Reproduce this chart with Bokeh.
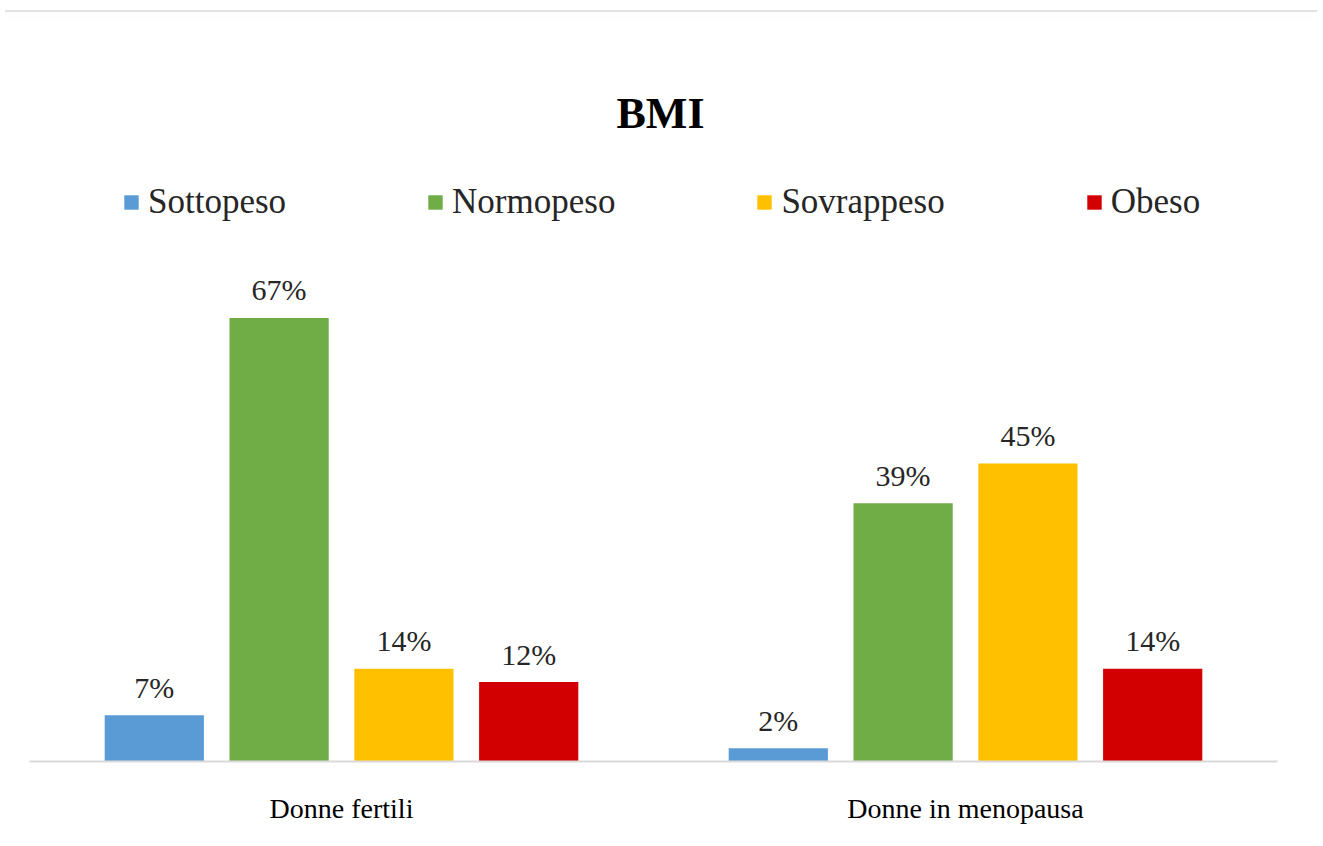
from bokeh.plotting import figure
from bokeh.models import FactorRange, Range1d, Legend, LegendItem, ColumnDataSource, Div
from bokeh.layouts import column
from bokeh.transform import dodge
from bokeh.core.properties import value
from bokeh.embed import file_html
from bokeh.resources import INLINE

groups = ["Donne fertili", "Donne in menopausa"]
classes = ["Sottopeso", "Normopeso", "Sovrappeso", "Obeso"]
sottopeso = [7, 2]
normopeso = [67, 39]
sovrappeso = [14, 45]
obeso = [12, 14]
series = [sottopeso, normopeso, sovrappeso, obeso]
colors = ["#5B9BD5", "#70AD47", "#FFC000", "#D20000"]
offsets = [-0.3, -0.1, 0.1, 0.3]

FONT = "Liberation Serif"
FRAME_H = 619
PX_PER_UNIT = 6.62

p = figure(
    x_range=FactorRange(*groups, range_padding=0),
    y_range=Range1d(0, FRAME_H / PX_PER_UNIT),
    frame_width=1248, frame_height=FRAME_H,
    min_border_left=29, min_border_right=30,
    min_border_top=0, min_border_bottom=60,
    output_backend="svg", toolbar_location=None,
)

items = []
for name, vals, col, off in zip(classes, series, colors, offsets):
    src = ColumnDataSource(dict(g=groups, v=vals, lab=[f"{x}%" for x in vals]))
    r = p.vbar(x=dodge("g", off, range=p.x_range), top="v", width=0.159,
               source=src, fill_color=col, line_color=None)
    p.text(x=dodge("g", off, range=p.x_range), y="v", text="lab", source=src,
           text_align="center", text_baseline="alphabetic", y_offset=-28,
           text_font=value(FONT), text_font_size="30px", text_color="#262626")
    items.append(LegendItem(label=name, renderers=[r]))

legend = Legend(items=items, orientation="horizontal", location=(93, 539),
                label_text_font=FONT, label_text_font_size="35px",
                label_text_color="#262626",
                glyph_width=18, glyph_height=18, label_standoff=8,
                spacing=140, padding=0, margin=0,
                border_line_color=None, background_fill_alpha=0)
p.add_layout(legend, "center")

p.title.text = "BMI"
p.title.align = "left"
p.title.offset = 587
p.title.text_font = FONT
p.title.text_font_size = "44px"
p.title.text_font_style = "bold"
p.title.text_color = "#000000"
p.title.standoff = 10

p.yaxis.visible = False
p.xgrid.grid_line_color = None
p.ygrid.grid_line_color = None
p.outline_line_color = None
p.xaxis.axis_line_color = "#d9d9d9"
p.xaxis.axis_line_width = 2
p.xaxis.major_tick_line_color = None
p.xaxis.minor_tick_line_color = None
p.xaxis.major_label_text_font = FONT
p.xaxis.major_label_text_font_size = "28px"
p.xaxis.major_label_text_color = "#000000"
p.xaxis.major_label_standoff = 25

top = Div(
    text='<div style="margin-top:-7px;margin-left:0px;width:1312px;border-top:2px solid #e2e2e2;'
         'box-shadow:0 4px 8px #f3f3f3;height:0"></div>',
    width=1307, height=71,
)

layout = column(top, p, spacing=0)
open("out.html", "w").write(file_html(layout, INLINE))
